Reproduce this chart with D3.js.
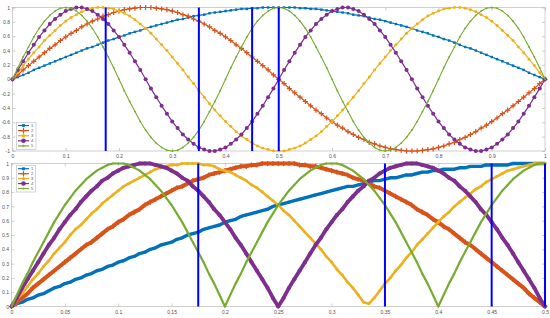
<!DOCTYPE html>
<html>
<head>
<meta charset="utf-8">
<script src="https://cdn.jsdelivr.net/npm/d3@7"></script>
<style>
  body { margin: 0; background: #fff; }
  svg text { font-family: Arial, "Liberation Sans", sans-serif; }
</style>
</head>
<body>
<div id="chart"></div>
<script>
var seriesNames = ["1", "2", "3", "4", "5"];
var seriesColors = ["#0072bd", "#d95319", "#edb120", "#7e2f8e", "#77ac30"];

// top panel: x from 0 to 1
var xTop = [0,.01,.02,.03,.04,.05,.06,.07,.08,.09,.1,.11,.12,.13,.14,.15,.16,.17,.18,.19,.2,.21,.22,.23,.24,.25,.26,.27,.28,.29,.3,.31,.32,.33,.34,.35,.36,.37,.38,.39,.4,.41,.42,.43,.44,.45,.46,.47,.48,.49,.5,.51,.52,.53,.54,.55,.56,.57,.58,.59,.6,.61,.62,.63,.64,.65,.66,.67,.68,.69,.7,.71,.72,.73,.74,.75,.76,.77,.78,.79,.8,.81,.82,.83,.84,.85,.86,.87,.88,.89,.9,.91,.92,.93,.94,.95,.96,.97,.98,.99,1];
var top1 = [0,.03,.06,.09,.13,.16,.19,.22,.25,.28,.31,.34,.37,.4,.43,.45,.48,.51,.54,.56,.59,.61,.64,.66,.68,.71,.73,.75,.77,.79,.81,.83,.84,.86,.88,.89,.9,.92,.93,.94,.95,.96,.97,.98,.98,.99,.99,1,1,1,1,
  1,1,1,.99,.99,.98,.98,.97,.96,.95,.94,.93,.92,.9,.89,.88,.86,.84,.83,.81,.79,.77,.75,.73,.71,.68,.66,.64,.61,.59,.56,.54,.51,.48,.45,.43,.4,.37,.34,.31,.28,.25,.22,.19,.16,.13,.09,.06,.03,0];
var top2 = [0,.06,.13,.19,.25,.31,.37,.43,.48,.54,.59,.64,.68,.73,.77,.81,.84,.88,.9,.93,.95,.97,.98,.99,1,1,
  1,.99,.98,.97,.95,.93,.9,.88,.84,.81,.77,.73,.68,.64,.59,.54,.48,.43,.37,.31,.25,.19,.13,.06,0,
  -.06,-.13,-.19,-.25,-.31,-.37,-.43,-.48,-.54,-.59,-.64,-.68,-.73,-.77,-.81,-.84,-.88,-.9,-.93,-.95,-.97,-.98,-.99,-1,-1,
  -1,-.99,-.98,-.97,-.95,-.93,-.9,-.88,-.84,-.81,-.77,-.73,-.68,-.64,-.59,-.54,-.48,-.43,-.37,-.31,-.25,-.19,-.13,-.06,0];
var top3 = [0,.09,.19,.28,.37,.45,.54,.61,.68,.75,.81,.86,.9,.94,.97,.99,1,
  1,.99,.98,.95,.92,.88,.83,.77,.71,.64,.56,.48,.4,.31,.22,.13,.03,
  -.06,-.16,-.25,-.34,-.43,-.51,-.59,-.66,-.73,-.79,-.84,-.89,-.93,-.96,-.98,-1,-1,
  -1,-.98,-.96,-.93,-.89,-.84,-.79,-.73,-.66,-.59,-.51,-.43,-.34,-.25,-.16,-.06,
  .03,.13,.22,.31,.4,.48,.56,.64,.71,.77,.83,.88,.92,.95,.98,.99,1,
  1,.99,.97,.94,.9,.86,.81,.75,.68,.61,.54,.45,.37,.28,.19,.09,0];
var top4 = [0,.13,.25,.37,.48,.59,.68,.77,.84,.9,.95,.98,1,
  1,.98,.95,.9,.84,.77,.68,.59,.48,.37,.25,.13,0,
  -.13,-.25,-.37,-.48,-.59,-.68,-.77,-.84,-.9,-.95,-.98,-1,
  -1,-.98,-.95,-.9,-.84,-.77,-.68,-.59,-.48,-.37,-.25,-.13,0,
  .13,.25,.37,.48,.59,.68,.77,.84,.9,.95,.98,1,
  1,.98,.95,.9,.84,.77,.68,.59,.48,.37,.25,.13,0,
  -.13,-.25,-.37,-.48,-.59,-.68,-.77,-.84,-.9,-.95,-.98,-1,
  -1,-.98,-.95,-.9,-.84,-.77,-.68,-.59,-.48,-.37,-.25,-.13,0];
var top5 = [0,.16,.31,.45,.59,.71,.81,.89,.95,.99,1,
  .99,.95,.89,.81,.71,.59,.45,.31,.16,0,
  -.16,-.31,-.45,-.59,-.71,-.81,-.89,-.95,-.99,-1,
  -.99,-.95,-.89,-.81,-.71,-.59,-.45,-.31,-.16,0,
  .16,.31,.45,.59,.71,.81,.89,.95,.99,1,
  .99,.95,.89,.81,.71,.59,.45,.31,.16,0,
  -.16,-.31,-.45,-.59,-.71,-.81,-.89,-.95,-.99,-1,
  -.99,-.95,-.89,-.81,-.71,-.59,-.45,-.31,-.16,0,
  .16,.31,.45,.59,.71,.81,.89,.95,.99,1,
  .99,.95,.89,.81,.71,.59,.45,.31,.16,0];

// bottom panel: x from 0 to 0.5
var xBot = [0,.005,.01,.015,.02,.025,.03,.035,.04,.045,.05,.055,.06,.065,.07,.075,.08,.085,.09,.095,.1,.105,.11,.115,.12,.125,.13,.135,.14,.145,.15,.155,.16,.165,.17,.175,.18,.185,.19,.195,.2,.205,.21,.215,.22,.225,.23,.235,.24,.245,.25,.255,.26,.265,.27,.275,.28,.285,.29,.295,.3,.305,.31,.315,.32,.325,.33,.335,.34,.345,.35,.355,.36,.365,.37,.375,.38,.385,.39,.395,.4,.405,.41,.415,.42,.425,.43,.435,.44,.445,.45,.455,.46,.465,.47,.475,.48,.485,.49,.495,.5];
var bot1 = [0,.02,.03,.05,.06,.08,.09,.11,.13,.14,.16,.17,.19,.2,.22,.23,.25,.26,.28,.29,
  .31,.32,.34,.35,.37,.38,.4,.41,.43,.44,.45,.47,.48,.5,.51,.52,.54,.55,.56,.57,
  .59,.6,.61,.63,.64,.65,.66,.67,.68,.7,.71,.72,.73,.74,.75,.76,.77,.78,.79,.8,
  .81,.82,.83,.84,.84,.85,.86,.87,.88,.88,.89,.9,.9,.91,.92,.92,.93,.94,.94,.95,
  .95,.96,.96,.96,.97,.97,.98,.98,.98,.99,.99,.99,.99,.99,1,1,1,1,1,1,1];
var bot2 = [0,.03,.06,.09,.13,.16,.19,.22,.25,.28,.31,.34,.37,.4,.43,.45,.48,.51,.54,.56,.59,.61,.64,.66,.68,.71,.73,.75,.77,.79,.81,.83,.84,.86,.88,.89,.9,.92,.93,.94,.95,.96,.97,.98,.98,.99,.99,1,1,1,1,
  1,1,1,.99,.99,.98,.98,.97,.96,.95,.94,.93,.92,.9,.89,.88,.86,.84,.83,.81,.79,.77,.75,.73,.71,.68,.66,.64,.61,.59,.56,.54,.51,.48,.45,.43,.4,.37,.34,.31,.28,.25,.22,.19,.16,.13,.09,.06,.03,0];
var bot3 = [0,.05,.09,.14,.19,.23,.28,.32,.37,.41,.45,.5,.54,.57,.61,.65,.68,.72,.75,.78,.81,.84,.86,.88,.9,.92,.94,.96,.97,.98,.99,.99,1,1,
  1,1,.99,.99,.98,.96,.95,.94,.92,.9,.88,.85,.83,.8,.77,.74,.71,.67,.64,.6,.56,.52,.48,.44,.4,.35,.31,.26,.22,.17,.13,.08,.03,
  .02,.06,.11,.16,.2,.25,.29,.34,.38,.43,.47,.51,.55,.59,.63,.66,.7,.73,.76,.79,.82,.84,.87,.89,.91,.93,.95,.96,.97,.98,.99,1,1,1];
var bot4 = [0,.06,.13,.19,.25,.31,.37,.43,.48,.54,.59,.64,.68,.73,.77,.81,.84,.88,.9,.93,.95,.97,.98,.99,1,1,
  1,.99,.98,.97,.95,.93,.9,.88,.84,.81,.77,.73,.68,.64,.59,.54,.48,.43,.37,.31,.25,.19,.13,.06,0,
  .06,.13,.19,.25,.31,.37,.43,.48,.54,.59,.64,.68,.73,.77,.81,.84,.88,.9,.93,.95,.97,.98,.99,1,1,
  1,.99,.98,.97,.95,.93,.9,.88,.84,.81,.77,.73,.68,.64,.59,.54,.48,.43,.37,.31,.25,.19,.13,.06,0];
var bot5 = [0,.08,.16,.23,.31,.38,.45,.52,.59,.65,.71,.76,.81,.85,.89,.92,.95,.97,.99,1,1,
  1,.99,.97,.95,.92,.89,.85,.81,.76,.71,.65,.59,.52,.45,.38,.31,.23,.16,.08,0,
  .08,.16,.23,.31,.38,.45,.52,.59,.65,.71,.76,.81,.85,.89,.92,.95,.97,.99,1,1,
  1,.99,.97,.95,.92,.89,.85,.81,.76,.71,.65,.59,.52,.45,.38,.31,.23,.16,.08,0,
  .08,.16,.23,.31,.38,.45,.52,.59,.65,.71,.76,.81,.85,.89,.92,.95,.97,.99,1,1];

// blue vertical markers (same x in both panels)
var cutLines = [0.175, 0.35, 0.45, 0.5];

var topXTicks = [0, 0.1, 0.2, 0.3, 0.4, 0.5, 0.6, 0.7, 0.8, 0.9, 1];
var topYTicks = [-1, -0.8, -0.6, -0.4, -0.2, 0, 0.2, 0.4, 0.6, 0.8, 1];
var botXTicks = [0, 0.05, 0.1, 0.15, 0.2, 0.25, 0.3, 0.35, 0.4, 0.45, 0.5];
var botYTicks = [0, 0.1, 0.2, 0.3, 0.4, 0.5, 0.6, 0.7, 0.8, 0.9, 1];

var w = 550;
var h = 318;

var svg = d3.select("#chart")
            .append("svg")
            .attr("width", w)
            .attr("height", h);

// thin "+" marker, stroked
var plusSymbol = {
  draw: function(ctx, size) {
    var r = Math.sqrt(size) / 2;
    ctx.moveTo(-r, 0);
    ctx.lineTo(r, 0);
    ctx.moveTo(0, -r);
    ctx.lineTo(0, r);
  }
};

// marker look for each series: 1 square, 2 plus, 3 dot, 4 circle, 5 small dot
var markerTypes = [d3.symbolSquare, plusSymbol, d3.symbolCircle, d3.symbolCircle, d3.symbolCircle];
var markerSizes = [6, 26, 7, 13, 2.6];

function styleMarker(sel, i) {
  if (i === 1) {
    sel.attr("fill", "none").attr("stroke", seriesColors[i]).attr("stroke-width", 1.2);
  } else {
    sel.attr("fill", seriesColors[i]).attr("stroke", "none");
  }
}

function drawPanel(opt) {
  var xScale = d3.scaleLinear().domain(opt.xDomain).range([opt.left, opt.right]);
  var yScale = d3.scaleLinear().domain(opt.yDomain).range([opt.bottom, opt.top]);
  var g = svg.append("g");

  g.append("rect")
   .attr("x", opt.left)
   .attr("y", opt.top)
   .attr("width", opt.right - opt.left)
   .attr("height", opt.bottom - opt.top)
   .attr("fill", "#fff")
   .attr("stroke", "#c4c4c4")
   .attr("stroke-width", 0.8);

  var fmt = function(d) { return String(d); };

  var xAxis = d3.axisBottom(xScale).tickValues(opt.xTicks).tickFormat(fmt)
                .tickSizeInner(-3).tickSizeOuter(0).tickPadding(3.5);
  var yAxis = d3.axisLeft(yScale).tickValues(opt.yTicks).tickFormat(fmt)
                .tickSizeInner(-3).tickSizeOuter(0).tickPadding(2.5);
  var xAxisTop = d3.axisTop(xScale).tickValues(opt.xTicks).tickFormat("")
                   .tickSizeInner(-3).tickSizeOuter(0);
  var yAxisRight = d3.axisRight(yScale).tickValues(opt.yTicks).tickFormat("")
                     .tickSizeInner(-3).tickSizeOuter(0);

  var axes = [
    g.append("g").attr("transform", "translate(0," + opt.bottom + ")").call(xAxis),
    g.append("g").attr("transform", "translate(" + opt.left + ",0)").call(yAxis),
    g.append("g").attr("transform", "translate(0," + opt.top + ")").call(xAxisTop),
    g.append("g").attr("transform", "translate(" + opt.right + ",0)").call(yAxisRight)
  ];
  axes.forEach(function(a) {
    a.select(".domain").remove();
    a.selectAll("line").attr("stroke", "#b0b0b0").attr("stroke-width", 0.6);
    a.selectAll("text").attr("fill", "#505050").style("font-size", "5px");
  });

  // series: line then markers
  opt.values.forEach(function(vals, i) {
    var xs = opt.xs;
    var line = d3.line()
                 .x(function(d, j) { return xScale(xs[j]); })
                 .y(function(d) { return yScale(d); });
    g.append("path")
     .datum(vals)
     .attr("d", line)
     .attr("fill", "none")
     .attr("stroke", seriesColors[i])
     .attr("stroke-width", opt.lineWidths[i])
     .attr("stroke-linejoin", "round");

    var sym = d3.symbol().type(markerTypes[i]).size(markerSizes[i]);
    g.append("g")
     .selectAll("path")
     .data(vals)
     .enter()
     .append("path")
     .attr("d", sym)
     .attr("transform", function(d, j) {
       return "translate(" + xScale(xs[j]) + "," + yScale(d) + ")";
     })
     .call(styleMarker, i);
  });

  g.selectAll(".cut")
   .data(cutLines)
   .enter()
   .append("line")
   .attr("class", "cut")
   .attr("x1", function(d) { return xScale(d); })
   .attr("x2", function(d) { return xScale(d); })
   .attr("y1", opt.top)
   .attr("y2", opt.bottom)
   .attr("stroke", "#0000ff")
   .attr("stroke-width", 2);

  // legend box
  var lg = opt.legend;
  var leg = g.append("g");
  leg.append("rect")
     .attr("x", lg.x)
     .attr("y", lg.y)
     .attr("width", lg.w)
     .attr("height", lg.h)
     .attr("fill", "#fff")
     .attr("stroke", "#b8b8b8")
     .attr("stroke-width", 0.6);
  seriesNames.forEach(function(name, i) {
    var ry = lg.y0 + i * lg.step;
    leg.append("line")
       .attr("x1", lg.x + 1.5)
       .attr("x2", lg.x + 12.5)
       .attr("y1", ry)
       .attr("y2", ry)
       .attr("stroke", seriesColors[i])
       .attr("stroke-width", 1.2);
    leg.append("path")
       .attr("d", d3.symbol().type(markerTypes[i]).size(markerSizes[i] * 1.3))
       .attr("transform", "translate(" + (lg.x + 7) + "," + ry + ")")
       .call(styleMarker, i);
    leg.append("text")
       .attr("x", lg.x + 14.5)
       .attr("y", ry)
       .attr("dy", "0.35em")
       .attr("fill", "#505050")
       .style("font-size", "4px")
       .text(name);
  });
}

drawPanel({
  xs: xTop,
  values: [top1, top2, top3, top4, top5],
  xDomain: [0, 1],
  yDomain: [-1, 1],
  left: 12.5, right: 545, top: 7.5, bottom: 151,
  xTicks: topXTicks,
  yTicks: topYTicks,
  lineWidths: [1.2, 1.2, 1.2, 1.2, 1.1],
  legend: { x: 16.5, y: 122.5, w: 19.5, h: 27, y0: 125.5, step: 5.1 }
});

// the bottom curves are sampled so densely that they read as thick bands
drawPanel({
  xs: xBot,
  values: [bot1, bot2, bot3, bot4, bot5],
  xDomain: [0, 0.5],
  yDomain: [0, 1],
  left: 11.5, right: 545, top: 163.5, bottom: 306.5,
  xTicks: botXTicks,
  yTicks: botYTicks,
  lineWidths: [3.4, 4, 2.6, 3.8, 2.2],
  legend: { x: 16.5, y: 165.5, w: 19, h: 26.5, y0: 168.7, step: 4.95 }
});
</script>
</body>
</html>
